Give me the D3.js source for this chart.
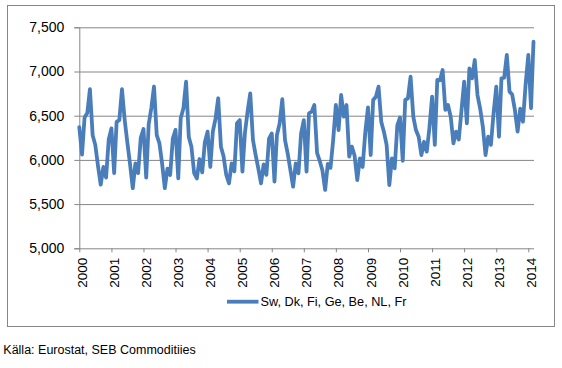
<!DOCTYPE html>
<html>
<head>
<meta charset="utf-8">
<script src="https://cdn.jsdelivr.net/npm/d3@7"></script>
<style>
  html, body { margin: 0; padding: 0; background: #fff; }
  svg { display: block; }
</style>
</head>
<body>
<div id="chart"></div>
<script>
// ---- Data (monthly, starting Jan 2000) ----
const startYear = 2000;
const seriesName = "Sw, Dk, Fi, Ge, Be, NL, Fr";
const sourceText = "Källa: Eurostat, SEB Commoditiies";
const values = [
  // 2000
  6370, 6060, 6480, 6530, 6800, 6280, 6170, 5930, 5720, 5920, 5800, 6230,
  // 2001
  6357, 5850, 6430, 6450, 6800, 6450, 6200, 5950, 5680, 5960, 5850, 6250,
  // 2002
  6350, 5800, 6400, 6590, 6830, 6280, 6190, 5960, 5680, 5900, 5830, 6240,
  // 2003
  6340, 5790, 6470, 6584, 6885, 6260, 6150, 5850, 5790, 6010, 5860, 6200,
  // 2004
  6320, 5920, 6320, 6470, 6697, 6150, 6040, 5830, 5735, 5960, 5870, 6414,
  // 2005
  6450, 5867, 6300, 6550, 6753, 6225, 6056, 5900, 5735, 5950, 5830, 6240,
  // 2006
  6300, 5754, 6282, 6414, 6686, 6225, 6075, 5886, 5697, 5960, 5848, 6300,
  // 2007
  6450, 5867, 6527, 6545, 6621, 6080, 5990, 5880, 5660, 5955, 5910, 6220,
  // 2008
  6621, 6338, 6734, 6489, 6621, 6036, 6150, 6050, 5772, 6018, 5920, 6310,
  // 2009
  6595, 6055, 6678, 6715, 6828, 6432, 6319, 6169, 5716, 6018, 5905, 6390,
  // 2010
  6480, 5990, 6678, 6697, 6941, 6489, 6338, 6262, 6055, 6205, 6093, 6357,
  // 2011
  6715, 6170, 6904, 6900, 7017, 6565, 6621, 6489, 6188, 6320, 6230, 6550,
  // 2012
  6885, 6414, 7036, 6923, 7130, 6734, 6584, 6376, 6055, 6262, 6170, 6527,
  // 2013
  6828, 6262, 6923, 6930, 7187, 6772, 6740, 6565, 6320, 6580, 6432, 6850,
  // 2014
  7187, 6584, 7337
];
const yearLabels = [2000, 2001, 2002, 2003, 2004, 2005, 2006, 2007, 2008, 2009, 2010, 2011, 2012, 2013, 2014];
const yTickValues = [5000, 5500, 6000, 6500, 7000, 7500];

// ---- Layout ----
const W = 562, H = 368;
const plotLeft = 79.3, plotRight = 533.5, plotTop = 27.3, plotBottom = 248.3;
const gridColor = "#868686";
const lineColor = "#4A7EBB";

const data = values.map((v, i) => ({ date: new Date(startYear, i, 1), value: v }));

const svg = d3.select("#chart").append("svg")
  .attr("width", W).attr("height", H);

svg.append("rect").attr("width", W).attr("height", H).attr("fill", "#fff");

// outer frame
svg.append("rect")
  .attr("x", 7.5).attr("y", 5.5).attr("width", 547).attr("height", 321)
  .attr("fill", "none").attr("stroke", gridColor).attr("stroke-width", 1);

const x = d3.scaleTime()
  .domain([data[0].date, data[data.length - 1].date])
  .range([plotLeft, plotRight]);
const y = d3.scaleLinear().domain([5000, 7500]).range([plotBottom, plotTop]);

// gridlines
svg.append("g")
  .attr("transform", `translate(${plotLeft},0)`)
  .call(d3.axisLeft(y).tickValues(yTickValues.slice(1)).tickSize(-(plotRight - plotLeft + 0.5)).tickFormat(""))
  .call(g => g.select(".domain").remove())
  .call(g => g.selectAll("line").attr("stroke", gridColor).attr("stroke-width", 1));

// y axis
const yAxis = svg.append("g")
  .attr("transform", `translate(${plotLeft},0)`)
  .call(d3.axisLeft(y).tickValues(yTickValues).tickSize(5).tickPadding(10).tickFormat(d3.format(",")));
yAxis.select(".domain").attr("stroke", gridColor);
yAxis.selectAll("line").attr("stroke", gridColor);
yAxis.selectAll("text")
  .attr("font-family", "'Liberation Sans', Arial, sans-serif")
  .attr("font-size", "14px").attr("fill", "#000");

// x axis
const xAxis = svg.append("g")
  .attr("transform", `translate(0,${plotBottom})`)
  .call(d3.axisBottom(x)
    .tickValues(yearLabels.map(yr => new Date(yr, 0, 1)))
    .tickSize(4)
    .tickFormat(d3.timeFormat("%Y")));
xAxis.select(".domain").attr("stroke", gridColor).attr("d", `M${plotLeft},0.5H${plotRight + 0.5}`);
xAxis.selectAll("line").attr("stroke", gridColor);
xAxis.selectAll("text")
  .attr("font-family", "'Liberation Sans', Arial, sans-serif")
  .attr("font-size", "13.5px").attr("fill", "#000")
  .attr("text-anchor", "end")
  .attr("transform", "rotate(-90)")
  .attr("x", -9.5).attr("y", 0).attr("dy", "0.52em");

// line
const line = d3.line().x(d => x(d.date)).y(d => y(d.value)).curve(d3.curveLinear);
svg.append("path")
  .datum(data)
  .attr("d", line)
  .attr("fill", "none")
  .attr("stroke", lineColor)
  .attr("stroke-width", 3.8)
  .attr("stroke-linejoin", "round")
  .attr("stroke-linecap", "round");

// legend
const lg = svg.append("g").attr("transform", "translate(227,301.7)");
lg.append("line").attr("x1", 0).attr("x2", 31.5).attr("y1", 0).attr("y2", 0)
  .attr("stroke", lineColor).attr("stroke-width", 3.8);
lg.append("text").attr("x", 33.5).attr("y", 0).attr("dy", "0.35em")
  .attr("font-family", "'Liberation Sans', Arial, sans-serif")
  .attr("font-size", "12.7px").attr("fill", "#000")
  .text(seriesName);

// source
svg.append("text").attr("x", 3.3).attr("y", 353.5)
  .attr("font-family", "'Liberation Sans', Arial, sans-serif")
  .attr("font-size", "12.5px").attr("fill", "#000")
  .text(sourceText);
</script>
</body>
</html>
